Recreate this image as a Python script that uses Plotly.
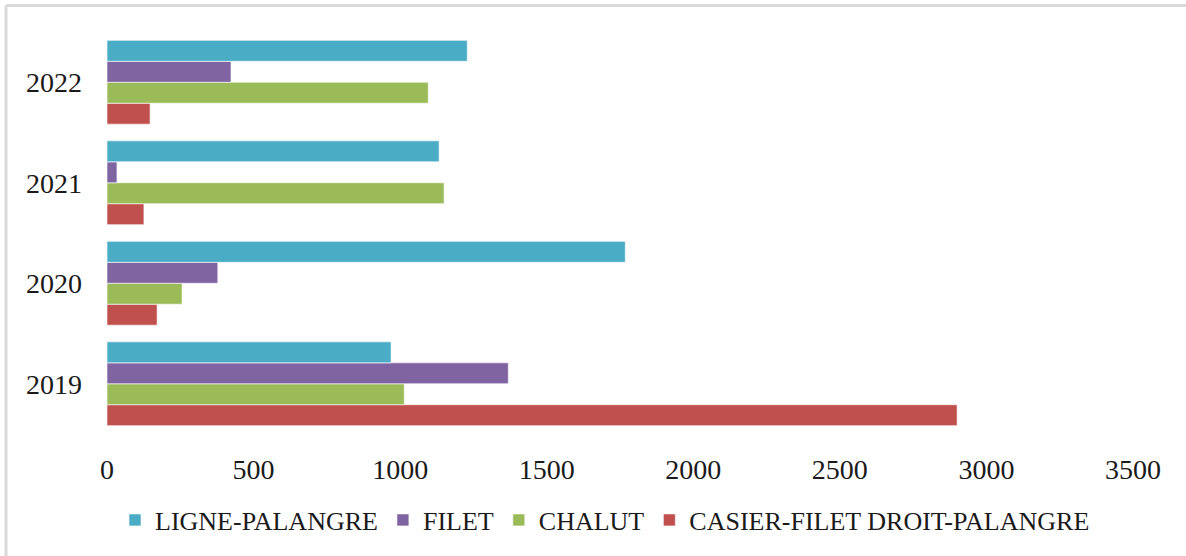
import plotly.graph_objects as go

years = ["2019", "2020", "2021", "2022"]
ligne_palangre = [969, 1768, 1133, 1229]
filet = [1369, 378, 34, 423]
chalut = [1014, 256, 1150, 1096]
casier = [2900, 171, 126, 147]

series_names = ["LIGNE-PALANGRE", "FILET", "CHALUT", "CASIER-FILET DROIT-PALANGRE"]
series_values = [ligne_palangre, filet, chalut, casier]
colors = ["#4BACC6", "#8064A2", "#9BBB59", "#C0504D"]

W, H = 1186, 556
L, R, T, B = 107, 53, 32, 122
pw, ph = W - L - R, H - T - B

fig = go.Figure()
# add bottom-most first (plotly stacks group offsets upward for horizontal bars)
for name, vals, col in reversed(list(zip(series_names, series_values, colors))):
    fig.add_trace(go.Bar(
        y=years, x=vals, name=name, orientation="h",
        marker=dict(color=col, line=dict(color="rgba(255,255,255,0.6)", width=1)),
    ))

font = "Liberation Serif, Times New Roman, serif"
fig.update_layout(
    width=W, height=H,
    margin=dict(l=L, r=R, t=T, b=B),
    paper_bgcolor="white", plot_bgcolor="white",
    barmode="group", bargap=0.166, bargroupgap=0,
    font=dict(family=font, size=28, color="#1a1a1a"),
    showlegend=True,
    legend=dict(orientation="h", traceorder="reversed",
                x=(605 - L) / pw, xanchor="center", y=(T + ph - 520) / ph, yanchor="middle",
                font=dict(size=26), itemwidth=30),
    xaxis=dict(range=[0, 3500], tickvals=[0, 500, 1000, 1500, 2000, 2500, 3000, 3500],
               showgrid=False, zeroline=False, showline=False,
               ticks="", ticklabelstandoff=16, fixedrange=True),
    yaxis=dict(categoryorder="array", categoryarray=years,
               showgrid=False, zeroline=False, showline=False,
               ticks="", ticklabelstandoff=24, fixedrange=True),
)

# light gray frame lines (top and left) like the reference
line_col = "#D9D9D9"
x_left = (6 - L) / pw
y_top = 1 + (T - 5.5) / ph
y_bot = (T + ph - H) / ph
x_right = (W - L) / pw
fig.add_shape(type="line", xref="paper", yref="paper", x0=x_left, x1=x_right, y0=y_top, y1=y_top,
              line=dict(color=line_col, width=3))
fig.add_shape(type="line", xref="paper", yref="paper", x0=x_left, x1=x_left, y0=y_bot, y1=y_top,
              line=dict(color=line_col, width=3))

fig.write_html("out.html", config={"displayModeBar": False},
               post_script="document.body.style.margin='0';")
